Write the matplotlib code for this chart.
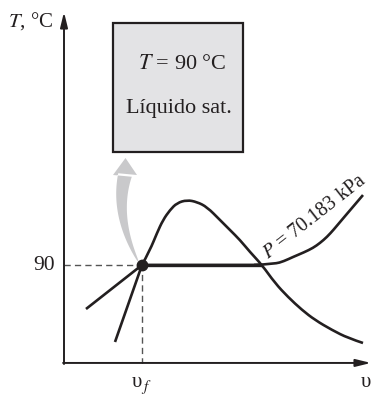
import numpy as np
import matplotlib
matplotlib.use("Agg")
import matplotlib.pyplot as plt
from matplotlib.patches import Rectangle, Polygon, PathPatch
from matplotlib.path import Path
from matplotlib.transforms import Affine2D

plt.rcParams['font.family'] = ['Liberation Serif', 'DejaVu Serif']
plt.rcParams['mathtext.fontset'] = 'stix'

# ---- data (specific volume in arbitrary units, temperature in °C) ----
T_sat = 90.0
v_f = 0.78
P_label = "70.183 kPa"

# liquid line below the state point (straight)
liq_v = [0.51, 0.78]
liq_T = [20.0, 90.0]

dome_v = [0.78, 0.86, 0.93, 0.99, 1.06, 1.13, 1.23, 1.33, 1.43, 1.56, 1.66, 1.76,
          1.86, 1.98, 2.11, 2.24, 2.38, 2.51, 2.68, 2.84, 2.99]
dome_T = [90.0, 103.6, 119.1, 130.9, 140.0, 146.4, 149.1, 147.3, 142.7, 130.9, 121.8, 112.7,
          101.8, 90.0, 73.6, 60.9, 49.1, 40.0, 30.9, 23.6, 19.1]

iso_v = [0.22, 0.78, 1.98]
iso_T = [50.0, 90.0, 90.0]
sup_v = [1.90, 2.11, 2.20, 2.29, 2.40, 2.49, 2.56, 2.63, 2.70, 2.76, 2.99]
sup_T = [90.0, 91.0, 93.5, 97.3, 101.5, 105.5, 110.0, 115.5, 122.5, 129.1, 153.6]

ink = '#231f20'

fig = plt.figure(figsize=(3.71, 3.96), dpi=100)
ax = fig.add_axes([64/371, 1-364/396, 307/371, 352/396])
ax.set_xlim(0, 3.07)
ax.set_ylim(0, 320)
ax.axis('off')


def smooth_path(xs, ys):
    pts = np.column_stack([xs, ys])
    verts = [pts[0]]
    codes = [Path.MOVETO]
    for i in range(1, len(pts) - 2):
        verts += [pts[i], (pts[i] + pts[i + 1]) / 2]
        codes += [Path.CURVE3, Path.CURVE3]
    verts += [pts[-2], pts[-1]]
    codes += [Path.CURVE3, Path.CURVE3]
    return Path(verts, codes)


# axes with arrows
ax.annotate('', xy=(0, 1.0), xytext=(0, 0), xycoords='axes fraction',
            arrowprops=dict(arrowstyle='-|>,head_length=0.9,head_width=0.22', lw=1.4,
                            color=ink, mutation_scale=10, shrinkA=0, shrinkB=0))
ax.annotate('', xy=(1.0, 0.003), xytext=(-0.003, 0.003), xycoords='axes fraction',
            arrowprops=dict(arrowstyle='-|>,head_length=0.9,head_width=0.22', lw=1.4,
                            color=ink, mutation_scale=10, shrinkA=0, shrinkB=0))

# dashed guides
ax.plot([0, v_f], [T_sat, T_sat], color='#555555', lw=1.0, ls=(0, (4.5, 3)))
ax.plot([v_f, v_f], [0, T_sat], color='#555555', lw=1.0, ls=(0, (4.5, 3)))

# saturation dome and isobar
ax.plot(liq_v, liq_T, color=ink, lw=1.9, solid_capstyle='butt')
ax.add_patch(PathPatch(smooth_path(dome_v, dome_T), fill=False, edgecolor=ink, lw=1.9,
                       joinstyle='round', capstyle='butt'))
ax.plot(iso_v, iso_T, color=ink, lw=1.9, solid_joinstyle='round', solid_capstyle='butt')
ax.plot(iso_v[1:3], iso_T[1:3], color=ink, lw=2.4, solid_capstyle='butt')
ax.add_patch(PathPatch(smooth_path(sup_v, sup_T), fill=False, edgecolor=ink, lw=1.9,
                       joinstyle='round', capstyle='butt'))
ax.plot([v_f], [T_sat], 'o', color=ink, ms=7.5, zorder=5)

# curved gray arrow (pixel offsets from the state point, y up)
t = np.linspace(0, 1, 40)
P0 = np.array([-4.0, 4.0]); C = np.array([-27.5, 49.5]); P2 = np.array([-17.0, 90.0])
B = ((1-t)**2)[:, None]*P0 + (2*(1-t)*t)[:, None]*C + (t**2)[:, None]*P2
dB = (2*(1-t))[:, None]*(C-P0) + (2*t)[:, None]*(P2-C)
nrm = np.stack([-dB[:, 1], dB[:, 0]], axis=1)
nrm /= np.linalg.norm(nrm, axis=1)[:, None]
hw = 0.5 + 6.5*t**0.8
left = B + nrm*hw[:, None]
right = B - nrm*hw[:, None]
head = np.array([[P2[0]-12, P2[1]], [P2[0]+0.5, P2[1]+17], [P2[0]+12, P2[1]]])
poly = np.vstack([right, head, left[::-1]])
fig.canvas.draw()
px, py = ax.transData.transform((v_f, T_sat))
ax.add_patch(Polygon(poly, closed=True, facecolor='#c9c9cb', edgecolor='none',
                     transform=Affine2D().translate(px, py), zorder=1))

# box
ax.add_patch(Rectangle((0.49, 192.7), 1.30, 117.3, facecolor='#e3e3e5', edgecolor=ink,
                       lw=1.6, clip_on=False, zorder=3))
ax.text(1.18, 272.5, r"$T$ = 90 °C", ha='center', va='center', fontsize=16, color=ink, zorder=4)
ax.text(1.15, 232.5, "Líquido sat.", ha='center', va='center', fontsize=16, color=ink, zorder=4)

# labels
ax.text(-0.105, 311.5, r"$T$, °C", ha='right', va='center', fontsize=15, color=ink, clip_on=False)
ax.text(-0.09, T_sat, "90", ha='right', va='center', fontsize=15.5, color=ink, clip_on=False)
ax.text(v_f - 0.05, -16.5, "υ", ha='center', va='center', fontsize=15, color=ink, clip_on=False)
ax.text(v_f + 0.045, -21.0, r"$f$", ha='center', va='center', fontsize=11, color=ink, clip_on=False)
ax.text(3.02, -16.5, "υ", ha='center', va='center', fontsize=15, color=ink, clip_on=False)
ax.text(2.505, 133.5, r"$P$ = " + P_label, ha='center', va='center', fontsize=14.5,
        rotation=38, rotation_mode='anchor', color=ink)

fig.savefig("out.png", dpi=100)
